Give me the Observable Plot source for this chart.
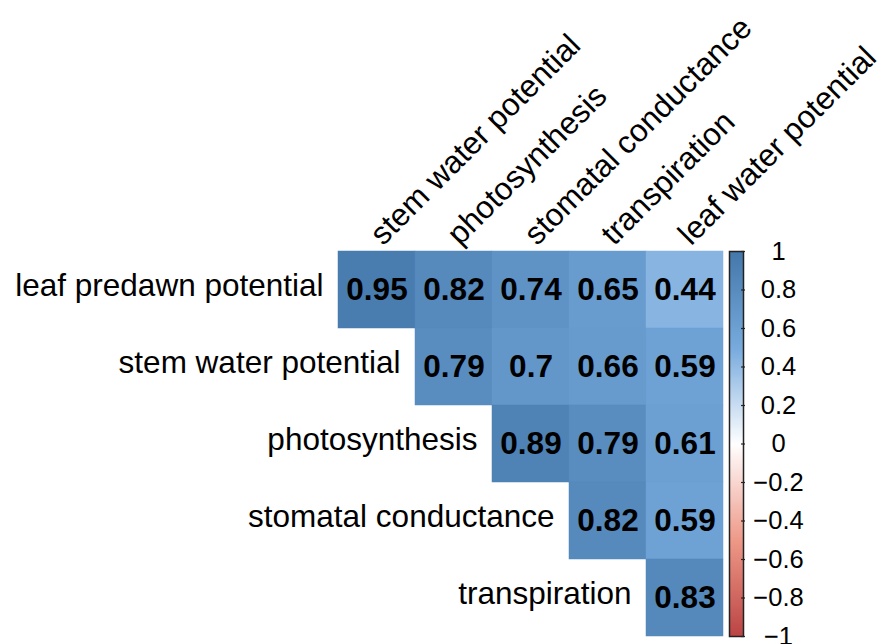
<!DOCTYPE html>
<html>
<head>
<meta charset="utf-8">
<script src="https://cdn.jsdelivr.net/npm/d3@7"></script>
<script src="https://cdn.jsdelivr.net/npm/@observablehq/plot@0.6"></script>
<style>
  html, body { margin: 0; padding: 0; background: white; }
  #wrap { position: relative; width: 884px; height: 644px; }
  #wrap > svg { position: absolute; left: 0; top: 0; }
</style>
</head>
<body>
<div id="wrap"></div>
<script>
// ---- data ----
const rowNames = ["leaf predawn potential", "stem water potential", "photosynthesis", "stomatal conductance", "transpiration"];
const colNames = ["stem water potential", "photosynthesis", "stomatal conductance", "transpiration", "leaf water potential"];
// each row's values start at the column with the same index as the row
const leafPredawnRow = [0.95, 0.82, 0.74, 0.65, 0.44];
const stemWaterRow = [0.79, 0.7, 0.66, 0.59];
const photosynthesisRow = [0.89, 0.79, 0.61];
const stomatalRow = [0.82, 0.59];
const transpirationRow = [0.83];
const colorbarTicks = [1, 0.8, 0.6, 0.4, 0.2, 0, -0.2, -0.4, -0.6, -0.8, -1];
const paletteStops = [-1, -0.5, 0, 0.5, 1];
const paletteColors = ["#BB4444", "#EE9988", "#FFFFFF", "#77AADD", "#4477AA"];

const rowValues = [leafPredawnRow, stemWaterRow, photosynthesisRow, stomatalRow, transpirationRow];
const cells = [];
rowValues.forEach((vals, i) => vals.forEach((v, k) => cells.push({row: rowNames[i], col: colNames[i + k], value: v})));
const rowLabels = rowNames.map((r, i) => ({row: r, col: colNames[i]}));

const font = "'Liberation Sans', Arial, Helvetica, sans-serif";
const colorScale = {type: "linear", domain: paletteStops, range: paletteColors, interpolate: "rgb"};

const W = 884, H = 644;
const main = Plot.plot({
  width: W, height: H,
  marginLeft: 338, marginRight: 161, marginTop: 249, marginBottom: 7,
  style: {fontFamily: font, background: "white", overflow: "visible"},
  x: {type: "band", domain: colNames, padding: 0, axis: null},
  y: {type: "band", domain: rowNames, padding: 0, axis: null},
  color: colorScale,
  marks: [
    Plot.cell(cells, {x: "col", y: "row", fill: "value", stroke: "value", strokeWidth: 0.5, inset: 0}),
    Plot.text(cells, {x: "col", y: "row", text: d => String(d.value), fontWeight: "bold", fontSize: 31.5, fill: "black"}),
    Plot.text(rowLabels, {x: "col", y: "row", text: "row", textAnchor: "end", dx: -53.5, dy: -4, fontSize: 31.5, fill: "black"}),
    Plot.text(colNames, {x: d => d, frameAnchor: "top", text: d => d, rotate: -45, textAnchor: "start", lineAnchor: "bottom", dx: 6, dy: -3, fontSize: 31.5, fill: "black"})
  ]
});

const fmt = d => d < 0 ? "\u2212" + Math.abs(d) : String(d);
const bar = Plot.plot({
  width: W, height: H,
  marginLeft: 729, marginRight: W - 743, marginTop: 251, marginBottom: H - 636,
  style: {fontFamily: font, background: "transparent", overflow: "visible"},
  x: {domain: [0, 1], axis: null},
  y: {domain: [-1, 1], axis: null},
  color: colorScale,
  marks: [
    Plot.raster({x1: 0, x2: 1, y1: -1, y2: 1, fill: (x, y) => y}),
    Plot.frame({stroke: "#222", strokeWidth: 1.5}),
    Plot.ruleY(colorbarTicks, {y: d => d, x1: 0.86, x2: 1.14, stroke: "#222", strokeWidth: 1.2}),
    Plot.text(colorbarTicks, {y: d => d, frameAnchor: "right", dx: 35, text: fmt, textAnchor: "middle", fontSize: 25.5, fill: "black"})
  ]
});

const wrap = document.getElementById("wrap");
wrap.appendChild(main);
wrap.appendChild(bar);
</script>
</body>
</html>
